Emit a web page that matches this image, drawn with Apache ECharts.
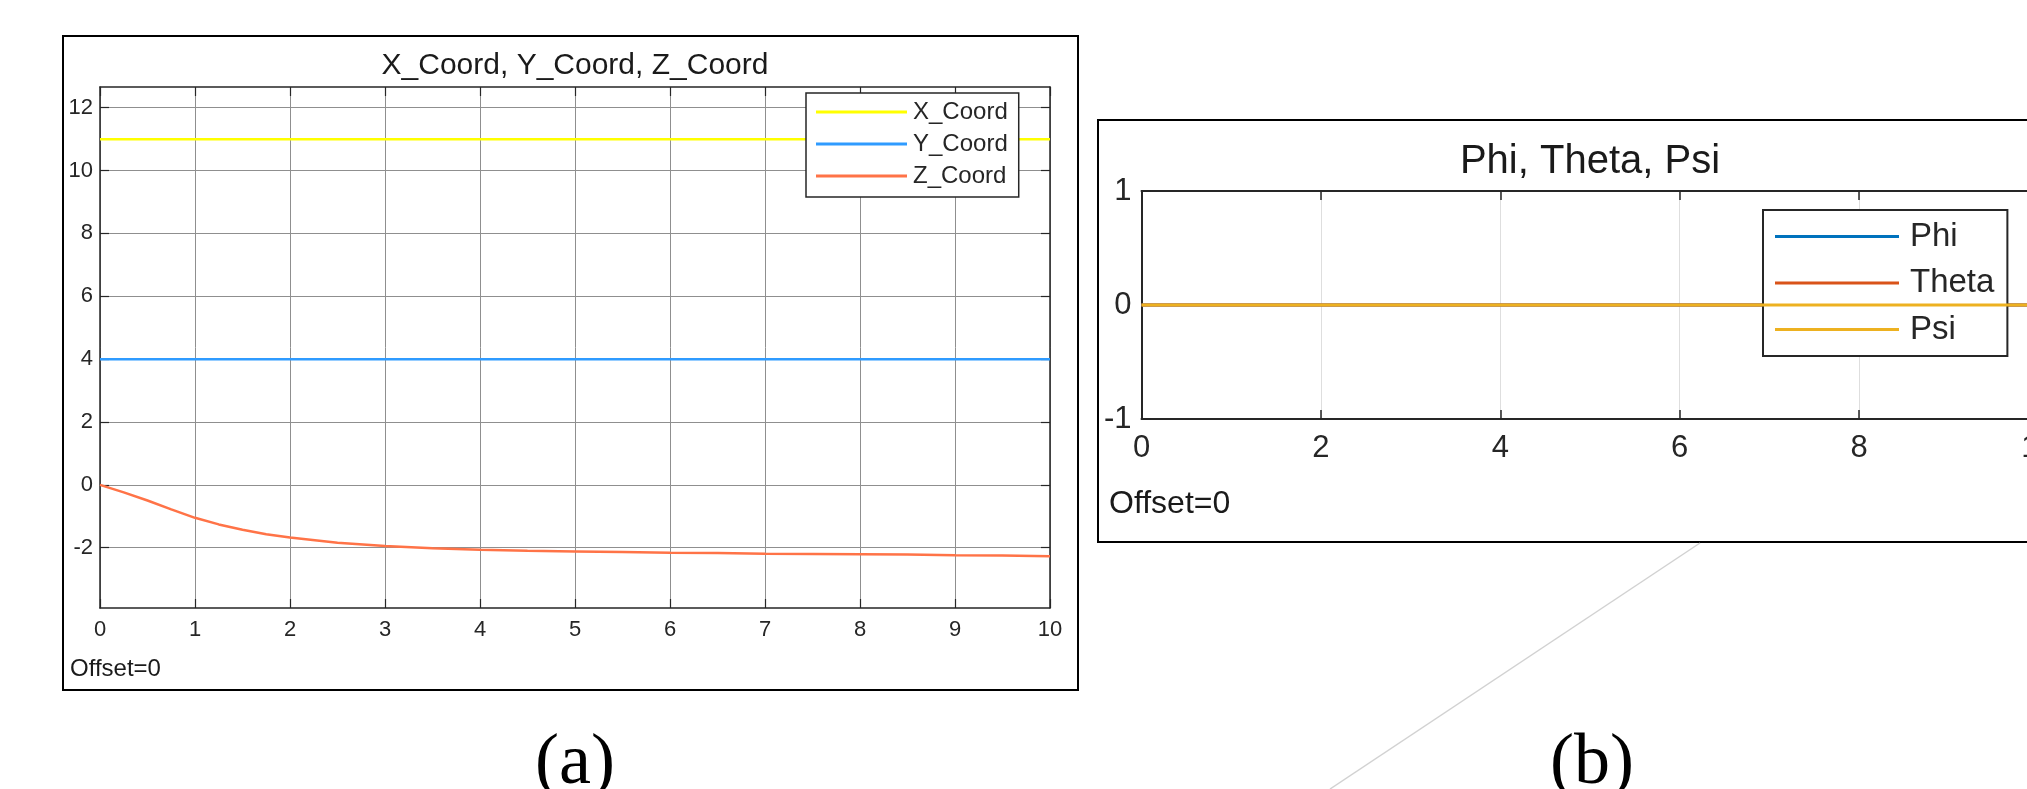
<!DOCTYPE html>
<html>
<head>
<meta charset="utf-8">
<script src="https://cdn.jsdelivr.net/npm/echarts@6/dist/echarts.min.js"></script>
<style>
  html, body { margin: 0; padding: 0; background: #fff; }
  #chart { width: 2027px; height: 789px; }
</style>
</head>
<body>
<div id="chart"></div>
<script>
// ---------- Panel (a): X_Coord, Y_Coord, Z_Coord ----------
const tA     = [0, 0.25, 0.5, 0.75, 1, 1.25, 1.5, 1.75, 2, 2.5, 3, 3.5, 4, 4.5, 5, 5.5, 6, 6.5, 7, 7.5, 8, 8.5, 9, 9.5, 10];
const xCoord = [11, 11, 11, 11, 11, 11, 11, 11, 11, 11, 11, 11, 11, 11, 11, 11, 11, 11, 11, 11, 11, 11, 11, 11, 11];
const yCoord = [4, 4, 4, 4, 4, 4, 4, 4, 4, 4, 4, 4, 4, 4, 4, 4, 4, 4, 4, 4, 4, 4, 4, 4, 4];
const zCoord = [0, -0.24, -0.5, -0.78, -1.05, -1.26, -1.43, -1.57, -1.68, -1.84, -1.95, -2.02, -2.07, -2.1, -2.12, -2.14, -2.16, -2.17, -2.19, -2.2, -2.21, -2.22, -2.24, -2.25, -2.27];
const namesA = ['X_Coord', 'Y_Coord', 'Z_Coord'];
const yTicksA = [-2, 0, 2, 4, 6, 8, 10, 12];

// ---------- Panel (b): Phi, Theta, Psi ----------
const tB    = [0, 10];
const phi   = [0, 0];
const theta = [0, 0];
const psi   = [0, 0];
const namesB = ['Phi', 'Theta', 'Psi'];

const FONT = '"Liberation Sans", Arial, Helvetica, sans-serif';
const AX = '#262626';

const pairs = (xs, ys) => xs.map((x, i) => [x, ys[i]]);

const chart = echarts.init(document.getElementById('chart'), null, { renderer: 'canvas' });

const lineSeries = (name, xi, yi, xs, ys, color, w, z) => ({
  name, type: 'line', xAxisIndex: xi, yAxisIndex: yi,
  data: pairs(xs, ys), showSymbol: false, symbol: 'none', smooth: false,
  color, lineStyle: { color, width: w }, z: z || 2, animation: false
});

const option = {
  backgroundColor: '#ffffff',
  animation: false,
  textStyle: { fontFamily: FONT },
  grid: [
    { left: 100, top: 87, width: 950, height: 521, containLabel: false, outerBoundsMode: 'none' },
    { left: 1141.5, top: 191, right: -11.5, height: 228, containLabel: false, outerBoundsMode: 'none' }
  ],
  xAxis: [
    { // (a) bottom
      type: 'value', gridIndex: 0, position: 'bottom', min: 0, max: 10, interval: 1,
      axisLine: { show: true, onZero: false, lineStyle: { color: AX, width: 1.5 } },
      axisTick: { show: true, inside: true, length: 9, lineStyle: { color: AX, width: 1.2 } },
      axisLabel: { show: true, fontSize: 22, color: AX, margin: 11, fontFamily: FONT },
      splitLine: { show: true, lineStyle: { color: '#8f8f8f', width: 1 } }
    },
    { // (a) top mirror
      type: 'value', gridIndex: 0, position: 'top', min: 0, max: 10, interval: 1,
      axisLine: { show: true, onZero: false, lineStyle: { color: AX, width: 1.5 } },
      axisTick: { show: true, inside: true, length: 9, lineStyle: { color: AX, width: 1.2 } },
      axisLabel: { show: false }, splitLine: { show: false }
    },
    { // (b) bottom
      type: 'value', gridIndex: 1, position: 'bottom', min: 0, max: 10, interval: 2,
      axisLine: { show: true, onZero: false, lineStyle: { color: AX, width: 2 } },
      axisTick: { show: true, inside: true, length: 9, lineStyle: { color: AX, width: 1.5 } },
      axisLabel: { show: true, fontSize: 31, color: AX, margin: 14, fontFamily: FONT },
      splitLine: { show: true, lineStyle: { color: '#dedede', width: 1 } }
    },
    { // (b) top mirror
      type: 'value', gridIndex: 1, position: 'top', min: 0, max: 10, interval: 2,
      axisLine: { show: true, onZero: false, lineStyle: { color: AX, width: 2 } },
      axisTick: { show: true, inside: true, length: 9, lineStyle: { color: AX, width: 1.5 } },
      axisLabel: { show: false }, splitLine: { show: false }
    }
  ],
  yAxis: [
    { // (a) left
      type: 'value', gridIndex: 0, position: 'left', min: -3.92, max: 12.66,
      axisLine: { show: true, onZero: false, lineStyle: { color: AX, width: 1.5 } },
      axisTick: { show: true, inside: true, length: 9, customValues: yTicksA, lineStyle: { color: AX, width: 1.2 } },
      axisLabel: { show: true, fontSize: 22, color: AX, margin: 7, customValues: yTicksA, fontFamily: FONT },
      splitLine: { show: true, lineStyle: { color: '#8f8f8f', width: 1 } }
    },
    { // (a) right mirror
      type: 'value', gridIndex: 0, position: 'right', min: -3.92, max: 12.66,
      axisLine: { show: true, onZero: false, lineStyle: { color: AX, width: 1.5 } },
      axisTick: { show: true, inside: true, length: 9, customValues: yTicksA, lineStyle: { color: AX, width: 1.2 } },
      axisLabel: { show: false }, splitLine: { show: false }
    },
    { // (b) left
      type: 'value', gridIndex: 1, position: 'left', min: -1, max: 1, interval: 1,
      axisLine: { show: true, onZero: false, lineStyle: { color: AX, width: 2 } },
      axisTick: { show: true, inside: true, length: 9, lineStyle: { color: AX, width: 1.5 } },
      axisLabel: { show: true, fontSize: 31, color: AX, margin: 10, fontFamily: FONT, padding: [6, 0, 0, 0] },
      splitLine: { show: false }
    },
    { // (b) right mirror
      type: 'value', gridIndex: 1, position: 'right', min: -1, max: 1, interval: 1,
      axisLine: { show: true, onZero: false, lineStyle: { color: AX, width: 2 } },
      axisTick: { show: true, inside: true, length: 9, lineStyle: { color: AX, width: 1.5 } },
      axisLabel: { show: false }, splitLine: { show: false }
    }
  ],
  legend: [
    {
      data: namesA, orient: 'vertical', left: 806, top: 93,
      padding: [7, 11, 9, 10], itemGap: 8, itemWidth: 91, itemHeight: 3,
      icon: 'rect', selectedMode: false,
      backgroundColor: '#ffffff', borderColor: AX, borderWidth: 1.5, borderRadius: 0,
      itemStyle: { borderWidth: 0 },
      textStyle: { fontSize: 24, color: AX, fontFamily: FONT, padding: [0, 0, 0, 1] }
    },
    {
      data: namesB, orient: 'vertical', left: 1763, top: 210,
      padding: [10, 13, 10, 12], itemGap: 13.5, itemWidth: 124, itemHeight: 3,
      icon: 'rect', selectedMode: false,
      backgroundColor: '#ffffff', borderColor: AX, borderWidth: 2, borderRadius: 0,
      itemStyle: { borderWidth: 0 },
      textStyle: { fontSize: 33, color: AX, fontFamily: FONT, padding: [0, 0, 0, 6] }
    }
  ],
  series: [
    lineSeries('X_Coord', 0, 0, tA, xCoord, '#ffff00', 2.5, 2),
    lineSeries('Y_Coord', 0, 0, tA, yCoord, '#2f9bff', 2.5, 2),
    lineSeries('Z_Coord', 0, 0, tA, zCoord, '#ff7347', 2.5, 2),
    lineSeries('Phi',   2, 2, tB, phi,   '#0072BD', 3, 2),
    lineSeries('Theta', 2, 2, tB, theta, '#D95319', 3, 3),
    lineSeries('Psi',   2, 2, tB, psi,   '#EDB120', 3, 4)
  ],
  graphic: [
    // panel frames
    { type: 'rect', shape: { x: 63, y: 36, width: 1015, height: 654 }, style: { fill: null, stroke: '#000', lineWidth: 2 }, z: 0, silent: true },
    { type: 'rect', shape: { x: 1098, y: 120, width: 1000, height: 422 }, style: { fill: null, stroke: '#000', lineWidth: 2 }, z: 0, silent: true },
    // connector line
    { type: 'line', shape: { x1: 1700, y1: 543, x2: 1330, y2: 789 }, style: { stroke: '#d2d2d2', lineWidth: 1.5 }, z: 0, silent: true },
    // titles
    { type: 'text', x: 575, y: 66, style: { text: 'X_Coord, Y_Coord, Z_Coord', font: '30px ' + FONT, fill: '#1a1a1a', align: 'center', verticalAlign: 'middle' }, silent: true },
    { type: 'text', x: 1590, y: 162, style: { text: 'Phi, Theta, Psi', font: '40px ' + FONT, fill: '#1a1a1a', align: 'center', verticalAlign: 'middle' }, silent: true },
    // offsets
    { type: 'text', x: 70, y: 669, style: { text: 'Offset=0', font: '24px ' + FONT, fill: '#1a1a1a', align: 'left', verticalAlign: 'middle' }, silent: true },
    { type: 'text', x: 1109, y: 504, style: { text: 'Offset=0', font: '32px ' + FONT, fill: '#1a1a1a', align: 'left', verticalAlign: 'middle' }, silent: true },
    // panel labels
    { type: 'text', x: 575, y: 764, style: { text: '(a)', font: '72px "Liberation Serif", "Times New Roman", serif', fill: '#000', align: 'center', verticalAlign: 'middle' }, silent: true },
    { type: 'text', x: 1592, y: 764, style: { text: '(b)', font: '72px "Liberation Serif", "Times New Roman", serif', fill: '#000', align: 'center', verticalAlign: 'middle' }, silent: true }
  ]
};

chart.setOption(option);
</script>
</body>
</html>
